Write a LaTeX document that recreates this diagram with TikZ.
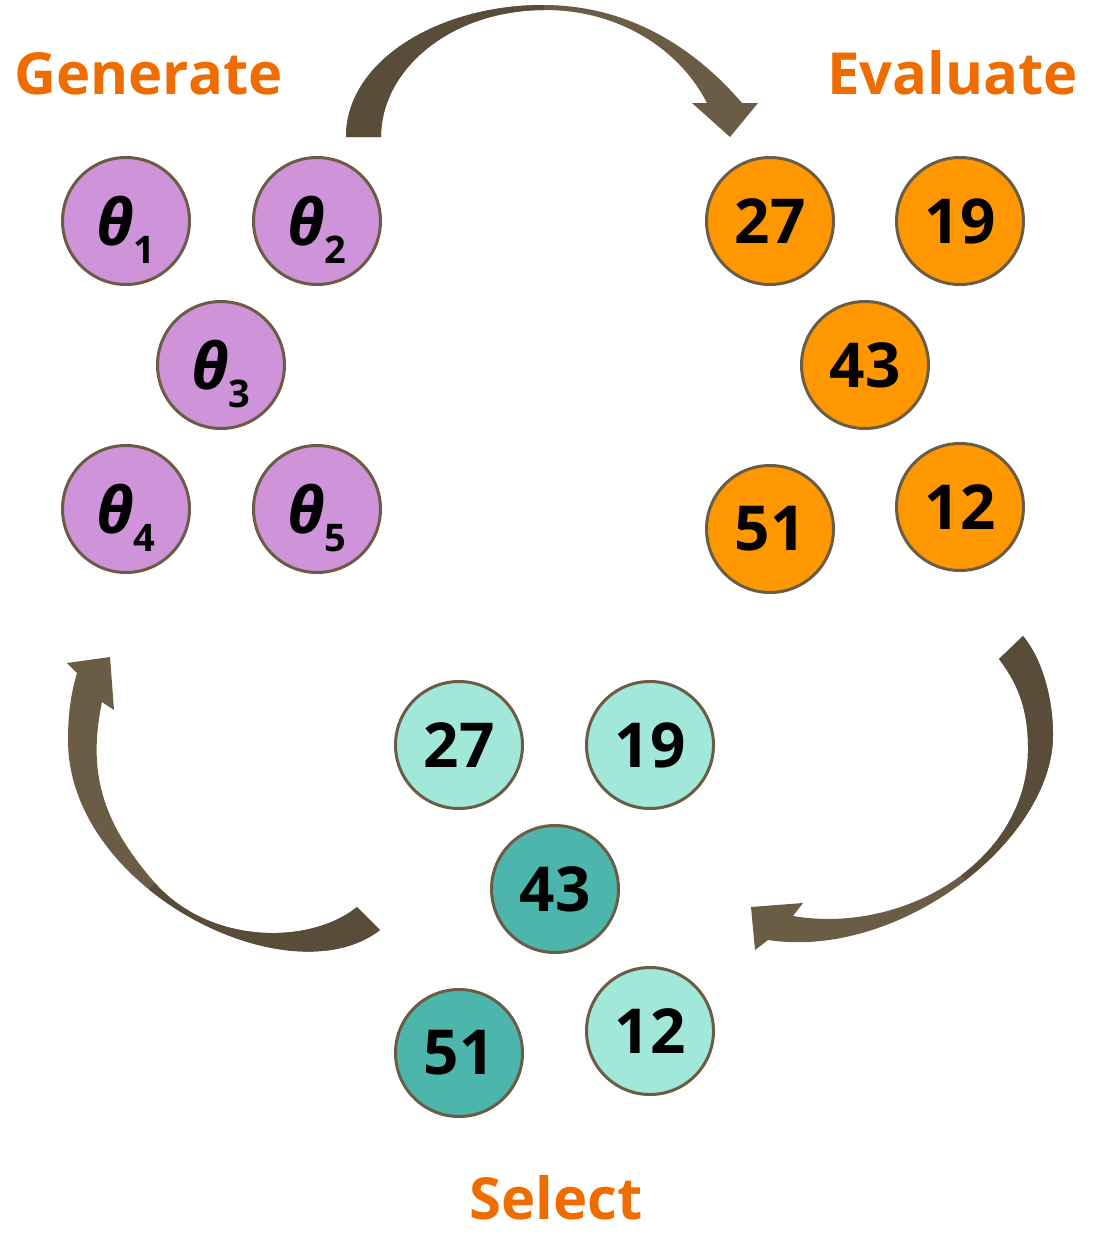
\documentclass[tikz,border=0pt]{standalone}
\usepackage{fontspec}
\setmainfont{Open Sans}
\definecolor{purp}{HTML}{CE93D8}
\definecolor{orng}{HTML}{FF9800}
\definecolor{tealL}{HTML}{A2E8DA}
\definecolor{tealD}{HTML}{4DB6AC}
\definecolor{rim}{HTML}{6B5D45}
\definecolor{lab}{HTML}{EF6C00}
\definecolor{arrL}{HTML}{6A5C45}
\definecolor{arrD}{HTML}{594D39}
\newcommand{\thlab}[1]{\raisebox{0pt}[\height][0pt]{\fontsize{64}{64}\selectfont\bfseries\itshape θ\raisebox{-18pt}{\fontsize{38}{38}\selectfont\upshape #1}}}
\def\toparrow{(346,137) .. controls (346,60) and (440,5) .. (543,5)
  .. controls (640,5) and (705,60) .. (742,103)
  -- (758,103) -- (730,137) -- (692,103) -- (707,103)
  .. controls (680,50) and (620,10) .. (545,10)
  .. controls (450,10) and (381,70) .. (381,137) -- cycle}
\def\rightarrowshape{(1023,636) .. controls (1043,660) and (1053,700) .. (1053,735)
  .. controls (1053,840) and (900,960) .. (768,940)
  -- (755,950) -- (751,907) -- (803,903) -- (793,916)
  .. controls (905,935) and (1030,860) .. (1028,747)
  .. controls (1028,705) and (1015,680) .. (999,659) -- cycle}
\def\leftarrowshape{(380,930) .. controls (290,1000) and (68,890) .. (68,740)
  .. controls (68,710) and (72,690) .. (77,673)
  -- (67,663) -- (110,657) -- (114,710) -- (102,702)
  .. controls (88,770) and (100,820) .. (155,883)
  .. controls (210,945) and (310,945) .. (357,907) -- cycle}
\begin{document}
\begin{tikzpicture}[x=1pt,y=-1pt,
  ball/.style={circle,draw=rim,line width=3pt,minimum size=127pt,inner sep=0pt,
    font=\fontsize{62}{62}\selectfont\bfseries},
  ttl/.style={text=lab,font=\fontsize{58}{58}\selectfont\bfseries,anchor=base west,inner sep=0pt}]
\useasboundingbox (0,0) rectangle (1096,1234);
% titles
\node[ttl] (tgen) at (14,94) {Generate};
\node[ttl] (teval) at (827,94) {Evaluate};
\node[ttl] (tsel) at (469,1219) {Select};
% generate
\node[ball,fill=purp] (g1) at (126,221) {\thlab{1}};
\node[ball,fill=purp] (g2) at (317,221) {\thlab{2}};
\node[ball,fill=purp] (g3) at (221,365) {\thlab{3}};
\node[ball,fill=purp] (g4) at (126,509) {\thlab{4}};
\node[ball,fill=purp] (g5) at (317,509) {\thlab{5}};
% evaluate
\node[ball,fill=orng] (e1) at (770,221) {27};
\node[ball,fill=orng] (e2) at (960,221) {19};
\node[ball,fill=orng] (e3) at (865,365) {43};
\node[ball,fill=orng] (e4) at (770,529) {51};
\node[ball,fill=orng] (e5) at (960,507) {12};
% select
\node[ball,fill=tealL] (s1) at (459,745) {27};
\node[ball,fill=tealL] (s2) at (650,745) {19};
\node[ball,fill=tealD] (s3) at (555,889) {43};
\node[ball,fill=tealD] (s4) at (459,1053) {51};
\node[ball,fill=tealL] (s5) at (650,1031) {12};
% top arrow
\fill[arrL] \toparrow;
\begin{scope}
  \clip (300,-10) rectangle (544,150);
  \fill[arrD] \toparrow;
\end{scope}
% right arrow
\fill[arrL] \rightarrowshape;
\begin{scope}
  \clip (905,800) -- (1010,940) -- (1100,940) -- (1100,600) -- (905,600) -- cycle;
  \fill[arrD] \rightarrowshape;
\end{scope}
% left arrow
\fill[arrL] \leftarrowshape;
\begin{scope}
  \clip (62,986) -- (242,786) -- (420,786) -- (420,1000) -- (62,1000) -- cycle;
  \fill[arrD] \leftarrowshape;
\end{scope}
\end{tikzpicture}
\end{document}
